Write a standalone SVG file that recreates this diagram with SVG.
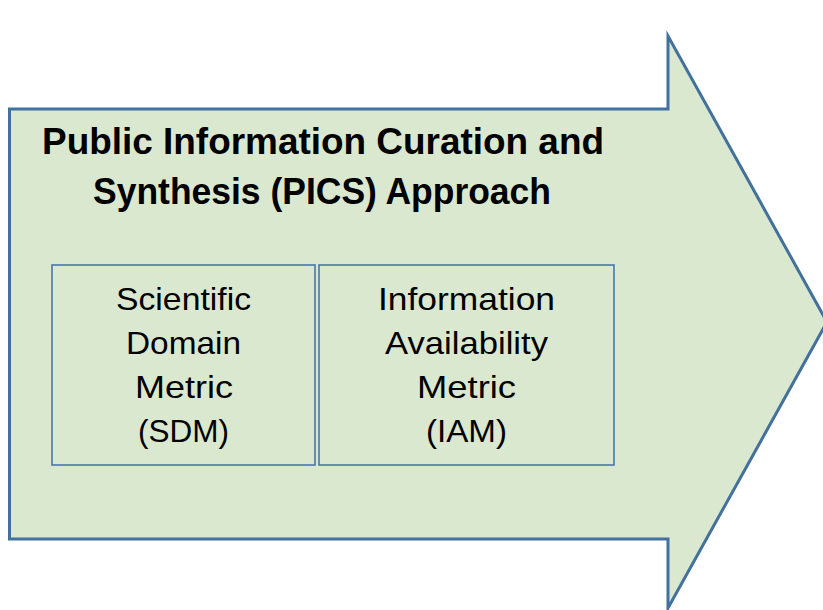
<svg xmlns="http://www.w3.org/2000/svg" width="823" height="610" viewBox="0 0 823 610">
<style>
.arrow{fill:#DAE8D0;stroke:#41719C;stroke-width:3;stroke-linejoin:miter}
.box{fill:none;stroke:#4A76A8;stroke-width:1.6}
.title{font-family:"Liberation Sans",Arial,sans-serif;font-weight:bold;font-size:36px;fill:#000;text-anchor:middle}
.lbl{font-family:"Liberation Sans",Arial,sans-serif;font-size:32px;fill:#000;text-anchor:middle}
</style>
<rect width="823" height="610" fill="#fff"/>
<g id="arrow">
<polygon class="arrow" points="9.5,109 668,109 668,36 827,322 668,608 668,539 9.5,539"/>
<text class="title" x="323" y="154" textLength="562" lengthAdjust="spacingAndGlyphs">Public Information Curation and</text>
<text class="title" x="322" y="204" textLength="458" lengthAdjust="spacingAndGlyphs">Synthesis (PICS) Approach</text>
</g>
<g id="sdm">
<rect class="box" x="52" y="265" width="263" height="200"/>
<text class="lbl" x="183.5" y="310" textLength="135" lengthAdjust="spacingAndGlyphs">Scientific</text>
<text class="lbl" x="183.5" y="354" textLength="115" lengthAdjust="spacingAndGlyphs">Domain</text>
<text class="lbl" x="184" y="398" textLength="98" lengthAdjust="spacingAndGlyphs">Metric</text>
<text class="lbl" x="183.5" y="442" textLength="91" lengthAdjust="spacingAndGlyphs">(SDM)</text>
</g>
<g id="iam">
<rect class="box" x="319" y="265" width="295" height="200"/>
<text class="lbl" x="466.5" y="310" textLength="177" lengthAdjust="spacingAndGlyphs">Information</text>
<text class="lbl" x="466.5" y="354" textLength="163" lengthAdjust="spacingAndGlyphs">Availability</text>
<text class="lbl" x="466.5" y="398" textLength="99" lengthAdjust="spacingAndGlyphs">Metric</text>
<text class="lbl" x="466.5" y="442" textLength="81" lengthAdjust="spacingAndGlyphs">(IAM)</text>
</g>
<g id="connectors"/>
</svg>
